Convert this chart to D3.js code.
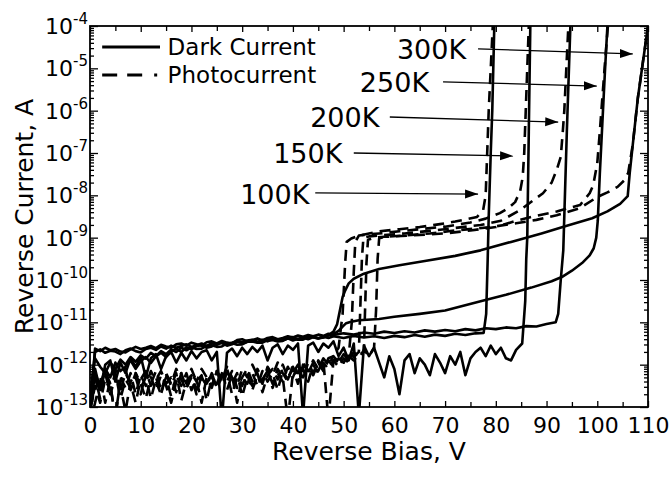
<!DOCTYPE html>
<html><head><meta charset="utf-8">
<script src="https://cdn.jsdelivr.net/npm/d3@7"></script>
<style>
body{margin:0;background:#fff}
svg{display:block}
text{font-family:"DejaVu Sans",Verdana,sans-serif;fill:#000}
</style>
</head><body>
<svg id="chart" width="670" height="484"></svg>
<script>
// ---------- DATA (reverse bias V, log10 of current in A) ----------
const xTicksMajor = [0,10,20,30,40,50,60,70,80,90,100,110];
const xTicksMinor = [5,15,25,35,45,55,65,75,85,95,105];
const yDecades = [-13,-12,-11,-10,-9,-8,-7,-6,-5,-4];
const xLabel = "Reverse Bias, V";
const yLabel = "Reverse Current, A";
const legendLabels = ["Dark Current","Photocurrent"];

const dark100K = [[0,-12.9],[1,-11.7],[2,-11.64],[3,-11.72],[4,-11.67],[5,-11.69],[6,-11.75],[7,-11.66],[8,-11.62],[9,-11.68],[10,-11.71],[11,-11.63],[12,-11.6],[13,-11.65],[14,-11.57],[15,-11.62],[16,-11.55],[17,-11.6],[18,-11.56],[19,-11.52],[20,-11.58],[21,-11.54],[22,-11.5],[23,-11.56],[24,-11.49],[25,-11.53],[26,-11.47],[27,-11.51],[28,-11.48],[29,-11.44],[30,-11.5],[31,-11.46],[32,-11.43],[33,-11.47],[34,-11.41],[35,-11.45],[36,-11.4],[37,-11.44],[38,-11.42],[39,-11.38],[40,-11.43],[41,-11.39],[42,-11.36],[43,-11.4],[44,-11.35],[45,-11.38],[46,-11.34],[47,-11.37],[48,-11.33],[50,-11.37],[52,-11.32],[54,-11.36],[56,-11.33],[58,-11.37],[60,-11.32],[62,-11.35],[64,-11.3],[66,-11.34],[68,-11.29],[70,-11.32],[72,-11.27],[74,-11.3],[76,-11.26],[77.6,-11.25],[78.1,-10.8],[78.4,-9.5],[78.6,-8.5],[79.0,-7.0],[79.3,-6.0],[79.7,-4.0]];

const dark150K = [[0,-13.2],[1,-12.1],[2,-12.6],[3,-12.0],[4,-11.9],[5,-12.4],[6,-11.95],[7,-12.2],[8,-11.85],[9,-12.05],[10,-11.8],[11,-12.3],[12,-11.85],[13,-11.75],[14,-12.1],[15,-11.8],[16,-11.7],[17,-11.95],[18,-11.72],[19,-11.9],[20,-11.68],[21,-11.85],[22,-11.7],[23,-11.66],[24,-11.9],[25,-11.7],[26,-13.3],[27,-11.72],[28,-11.62],[29,-11.8],[30,-11.6],[31,-11.75],[32,-11.58],[33,-11.7],[34,-11.55],[35,-11.9],[36,-11.6],[37,-11.52],[38,-11.75],[39,-11.55],[40,-11.65],[41,-11.5],[42,-13.2],[43,-11.55],[44,-11.48],[45,-11.7],[46,-11.5],[47,-11.6],[48,-11.45],[49,-11.8],[50,-11.6],[51,-11.9],[52,-11.5],[53,-13.2],[54,-11.55],[55,-11.8],[56,-11.6],[57,-11.95],[58,-12.3],[59,-11.8],[60,-12.1],[61,-12.7],[62,-11.9],[63,-11.75],[64,-12.2],[65,-11.85],[66,-12.0],[67,-12.25],[68,-11.75],[69,-11.95],[70,-12.2],[71,-11.8],[72,-12.0],[73,-11.7],[74,-12.25],[75,-11.85],[76,-11.7],[77,-11.6],[78,-11.8],[79,-11.55],[80,-11.75],[81,-11.6],[82,-11.85],[83,-11.9],[84,-11.65],[85.2,-11.5],[85.8,-10.5],[86.0,-9.5],[86.2,-9.0],[86.5,-6.5],[86.8,-4.0]];

const dark200K = [[0,-13.1],[1,-11.62],[2,-11.68],[3,-11.6],[4,-11.66],[5,-11.63],[6,-11.69],[7,-11.71],[8,-11.64],[9,-11.58],[10,-11.63],[11,-11.6],[12,-11.56],[13,-11.61],[14,-11.53],[15,-11.57],[16,-11.6],[17,-11.52],[18,-11.5],[19,-11.55],[20,-11.48],[21,-11.52],[22,-11.55],[23,-11.47],[24,-11.45],[25,-11.5],[26,-11.44],[27,-11.48],[28,-11.5],[29,-11.42],[30,-11.4],[31,-11.45],[32,-11.42],[33,-11.38],[34,-11.43],[35,-11.37],[36,-11.35],[37,-11.4],[38,-11.37],[39,-11.33],[40,-11.36],[41,-11.31],[42,-11.34],[43,-11.3],[44,-11.33],[45,-11.29],[46,-11.32],[47,-11.27],[48,-11.3],[50,-11.26],[52,-11.29],[54,-11.24],[56,-11.27],[58,-11.22],[60,-11.25],[62,-11.21],[64,-11.24],[66,-11.19],[68,-11.22],[70,-11.18],[72,-11.21],[74,-11.16],[76,-11.19],[78,-11.14],[80,-11.16],[82,-11.12],[84,-11.14],[86,-11.09],[88,-11.1],[90,-11.04],[91.8,-11.0],[92.3,-10.8],[92.8,-10.0],[93.3,-9.3],[94.0,-6.5],[94.7,-4.0]];

const dark250K = [[0,-13.0],[1,-12.2],[2,-12.5],[3,-12.1],[4,-12.3],[5,-11.95],[6,-12.15],[7,-12.05],[8,-11.9],[9,-12.1],[10,-11.92],[11,-11.82],[12,-11.96],[13,-11.8],[14,-11.72],[15,-11.82],[16,-11.68],[17,-11.62],[18,-11.7],[19,-11.59],[20,-11.63],[21,-11.56],[22,-11.54],[23,-11.6],[24,-11.57],[25,-11.5],[26,-11.49],[27,-11.55],[28,-11.52],[29,-11.46],[30,-11.47],[31,-11.43],[32,-11.41],[33,-11.46],[34,-11.44],[35,-11.39],[36,-11.38],[37,-11.43],[38,-11.42],[39,-11.36],[40,-11.35],[41,-11.4],[42,-11.38],[43,-11.33],[44,-11.34],[45,-11.37],[46,-11.35],[47,-11.31],[48,-11.28],[49,-11.2],[49.8,-11.1],[50.5,-11.02],[51.3,-10.99],[53,-10.95],[57,-10.92],[60,-10.87],[65,-10.8],[70,-10.72],[77,-10.5],[82,-10.35],[87,-10.18],[91,-10.03],[93,-9.93],[95,-9.78],[97,-9.6],[98.5,-9.42],[99.3,-9.25],[99.8,-9.0],[100.1,-8.6],[100.5,-7.5],[101.0,-6.3],[101.5,-5.1],[102.0,-4.0]];

const dark300K = [[0,-12.7],[1,-11.85],[2,-12.05],[3,-12.2],[4,-11.95],[5,-12.1],[6,-11.88],[7,-12.0],[8,-11.82],[9,-11.93],[10,-11.78],[11,-11.86],[12,-11.72],[13,-11.8],[14,-11.68],[15,-11.75],[16,-11.64],[17,-11.7],[18,-11.6],[19,-11.66],[20,-11.59],[21,-11.63],[22,-11.62],[23,-11.55],[24,-11.54],[25,-11.58],[26,-11.57],[27,-11.5],[28,-11.49],[29,-11.53],[30,-11.52],[31,-11.46],[32,-11.45],[33,-11.48],[34,-11.48],[35,-11.42],[36,-11.42],[37,-11.45],[38,-11.44],[39,-11.38],[40,-11.38],[41,-11.41],[42,-11.41],[43,-11.35],[44,-11.35],[45,-11.38],[46,-11.36],[47,-11.3],[48,-11.22],[48.7,-11.05],[49.3,-10.7],[49.8,-10.4],[50.3,-10.25],[51,-10.08],[52,-9.97],[54,-9.85],[57,-9.74],[61,-9.65],[66,-9.55],[72,-9.43],[77,-9.3],[83,-9.1],[89,-8.9],[94,-8.72],[99,-8.54],[102,-8.38],[104.5,-8.2],[106,-8.02],[106.4,-7.47],[107,-6.8],[108,-5.7],[109,-4.85],[110,-4.0]];

const photo100K = [[0,-13.3],[1,-12.3],[2,-12.8],[3,-12.2],[4,-12.5],[5,-13.2],[6,-12.4],[7,-12.1],[8,-12.6],[9,-12.3],[10,-12.7],[11,-12.2],[12,-12.45],[13,-12.15],[14,-12.6],[15,-12.3],[16,-12.75],[17,-12.25],[18,-12.5],[19,-12.2],[20,-12.6],[21,-12.35],[22,-12.9],[23,-12.3],[24,-12.5],[25,-12.15],[26,-12.45],[27,-12.2],[28,-12.7],[29,-12.3],[30,-12.5],[31,-12.2],[32,-12.6],[33,-12.25],[34,-12.4],[35,-12.1],[36,-12.55],[37,-12.2],[38,-12.4],[39,-12.05],[40,-12.3],[41,-12.0],[42,-12.35],[43,-11.95],[44,-12.2],[45,-11.9],[46,-12.1],[47,-11.85],[48,-11.8],[49,-11.6],[49.8,-10.8],[50.3,-9.6],[50.6,-9.1],[51.5,-9.02],[53,-8.95],[55,-8.9],[57,-8.85],[61,-8.8],[65,-8.75],[69,-8.68],[72,-8.62],[74,-8.57],[76.3,-8.51],[77.5,-8.35],[78.0,-8.0],[78.3,-7.0],[78.6,-6.0],[79.0,-5.0],[79.4,-4.0]];

const photo150K = [[0,-13.0],[1,-12.6],[2,-12.25],[3,-12.9],[4,-12.35],[5,-12.1],[6,-12.5],[7,-13.1],[8,-12.4],[9,-12.2],[10,-12.55],[11,-12.3],[12,-12.8],[13,-12.35],[14,-12.15],[15,-12.45],[16,-12.3],[17,-12.65],[18,-12.2],[19,-12.45],[20,-12.1],[21,-12.4],[22,-12.25],[23,-12.85],[24,-12.3],[25,-12.5],[26,-12.2],[27,-12.4],[28,-12.15],[29,-12.55],[30,-12.3],[31,-12.1],[32,-12.4],[33,-12.2],[34,-12.65],[35,-12.25],[36,-12.1],[37,-12.35],[38,-12.0],[39,-12.3],[40,-12.1],[41,-12.45],[42,-12.0],[43,-12.2],[44,-11.95],[45,-12.15],[46,-11.9],[47,-13.3],[48,-11.9],[49,-11.85],[50,-11.95],[51,-11.8],[51.6,-11.0],[52.0,-9.8],[52.3,-9.1],[53,-8.95],[55,-8.92],[57,-8.9],[61,-8.85],[65,-8.8],[70,-8.74],[75,-8.64],[78,-8.55],[80.8,-8.42],[82.5,-8.3],[83.8,-8.16],[84.8,-7.9],[85.3,-7.57],[85.6,-7.0],[85.9,-6.0],[86.2,-5.0],[86.5,-4.0]];

const photo200K = [[0,-13.4],[1,-12.9],[2,-12.4],[3,-12.2],[4,-12.7],[5,-12.3],[6,-12.6],[7,-12.2],[8,-12.45],[9,-12.9],[10,-12.35],[11,-12.15],[12,-12.5],[13,-12.3],[14,-12.7],[15,-12.25],[16,-12.5],[17,-12.2],[18,-12.85],[19,-12.4],[20,-12.25],[21,-12.6],[22,-12.3],[23,-12.5],[24,-12.2],[25,-12.45],[26,-12.15],[27,-12.6],[28,-12.25],[29,-12.9],[30,-12.3],[31,-12.45],[32,-12.2],[33,-12.5],[34,-12.15],[35,-12.4],[36,-12.2],[37,-12.6],[38,-12.15],[39,-12.35],[40,-12.05],[41,-12.3],[42,-12.1],[43,-12.4],[44,-12.0],[45,-12.2],[46,-11.95],[47,-12.1],[48,-11.9],[49,-12.05],[50,-11.85],[51,-11.95],[52,-11.8],[53,-11.7],[53.3,-10.6],[53.6,-9.5],[53.9,-9.0],[55,-8.97],[57,-8.95],[62,-8.9],[67,-8.84],[72,-8.77],[77,-8.7],[81,-8.6],[84.8,-8.35],[87,-8.15],[89.3,-7.95],[91.0,-7.7],[92.0,-7.4],[92.8,-7.09],[93.2,-6.5],[93.5,-6.0],[93.9,-5.0],[94.3,-4.0]];

const photo250K = [[0,-13.1],[1,-12.5],[2,-12.9],[3,-12.35],[4,-12.6],[5,-12.2],[6,-12.8],[7,-12.35],[8,-12.55],[9,-12.2],[10,-12.45],[11,-12.8],[12,-12.3],[13,-12.6],[14,-12.25],[15,-12.5],[16,-12.9],[17,-12.4],[18,-12.2],[19,-12.55],[20,-12.3],[21,-12.7],[22,-12.25],[23,-12.45],[24,-12.2],[25,-12.55],[26,-12.3],[27,-12.1],[28,-12.45],[29,-12.2],[30,-12.75],[31,-12.3],[32,-12.5],[33,-12.1],[34,-12.35],[35,-12.15],[36,-12.45],[37,-12.1],[38,-12.3],[39,-13.3],[40,-12.2],[41,-12.0],[42,-12.3],[43,-12.05],[44,-12.25],[45,-11.95],[46,-12.15],[47,-11.9],[48,-12.05],[49,-11.85],[50,-11.95],[51,-11.8],[52,-11.9],[53,-11.75],[54,-11.7],[54.2,-10.8],[54.5,-9.6],[54.8,-9.05],[56,-9.0],[58,-8.98],[63,-8.95],[70,-8.9],[75,-8.83],[80,-8.75],[84,-8.6],[87,-8.51],[92,-8.38],[96.6,-8.23],[98.5,-7.95],[99.2,-7.76],[100.0,-7.24],[100.5,-6.5],[101.0,-5.7],[101.5,-4.9],[102.1,-4.0]];

const photo300K = [[0,-12.8],[1,-12.35],[2,-12.6],[3,-12.15],[4,-12.45],[5,-13.3],[6,-12.3],[7,-12.55],[8,-12.2],[9,-12.7],[10,-12.25],[11,-12.5],[12,-12.15],[13,-12.4],[14,-12.7],[15,-12.2],[16,-12.45],[17,-12.1],[18,-12.35],[19,-12.6],[20,-12.2],[21,-12.4],[22,-12.1],[23,-12.3],[24,-12.55],[25,-12.15],[26,-12.35],[27,-12.05],[28,-12.3],[29,-12.5],[30,-12.1],[31,-12.3],[32,-12.0],[33,-12.25],[34,-12.45],[35,-12.05],[36,-12.25],[37,-11.95],[38,-12.2],[39,-12.4],[40,-12.0],[41,-12.2],[42,-11.95],[43,-12.15],[44,-11.9],[45,-12.1],[46,-11.85],[47,-12.0],[48,-11.8],[49,-11.95],[50,-11.75],[51,-11.9],[52,-11.7],[53,-11.85],[54,-11.65],[55,-11.8],[56,-11.6],[56.4,-10.7],[56.7,-9.5],[57.0,-9.02],[58,-8.98],[62,-8.95],[67,-8.9],[72,-8.83],[79,-8.75],[84,-8.66],[88,-8.58],[92,-8.47],[96.6,-8.3],[100,-8.04],[102,-7.93],[104,-7.8],[105.3,-7.65],[106.1,-7.47],[107,-6.8],[108,-5.7],[109,-4.85],[110,-4.0]];

// annotation: label, text anchor (V, log10 I), arrow start, arrow end
const annotLabels = ["300K","250K","200K","150K","100K"];
const annotText  = [[60.5,-4.78],[53.2,-5.56],[43.4,-6.39],[36.1,-7.24],[29.6,-8.2]];
const annotFrom  = [[76.5,-4.54],[69.6,-5.32],[59.1,-6.15],[52.0,-7.0],[44.4,-7.94]];
const annotTo    = [[107.0,-4.66],[99.9,-5.42],[92.3,-6.27],[83.4,-7.07],[76.5,-7.97]];

const series = [
  {data: dark100K, photo:false},{data: dark150K, photo:false},{data: dark200K, photo:false},
  {data: dark250K, photo:false},{data: dark300K, photo:false},
  {data: photo100K, photo:true},{data: photo150K, photo:true},{data: photo200K, photo:true},
  {data: photo250K, photo:true},{data: photo300K, photo:true}
];

// ---------- LAYOUT ----------
const W = 670, H = 484;
const m = {left: 90, right: 22, top: 26, bottom: 77};
const svg = d3.select("#chart");
const x = d3.scaleLinear().domain([0,110]).range([m.left, W - m.right]);
const y = d3.scaleLog().domain([1e-13,1e-4]).range([H - m.bottom, m.top]);
const p10 = e => Math.pow(10, e);

svg.append("defs").append("clipPath").attr("id","plotclip")
  .append("rect").attr("x", x(0)).attr("y", y(1e-4))
  .attr("width", x(110)-x(0)).attr("height", y(1e-13)-y(1e-4));

const line = d3.line().x(d => x(d[0])).y(d => y(p10(d[1])));
const plot = svg.append("g").attr("clip-path","url(#plotclip)");
series.forEach(s => {
  plot.append("path").attr("d", line(s.data))
    .attr("fill","none").attr("stroke","#000").attr("stroke-width",2.6)
    .attr("stroke-linejoin","round")
    .attr("stroke-dasharray", s.photo ? "11,7" : null);
});

// ---------- AXES ----------
const yMinor = [];
yDecades.slice(0,-1).forEach(e => { for (let k=2;k<=9;k++) yMinor.push(k*p10(e)); });
const yMajor = yDecades.map(p10);

function axisG(gen, tx, ty) {
  const g = svg.append("g").attr("transform",`translate(${tx},${ty})`).call(gen);
  g.select(".domain").remove();
  g.selectAll(".tick line").attr("stroke","#000").attr("stroke-width",1.3);
  return g;
}
const bottomY = y(1e-13), topY = y(1e-4);
const xb = axisG(d3.axisBottom(x).tickValues(xTicksMajor).tickSize(-6).tickPadding(10).tickFormat(d3.format("d")), 0, bottomY);
xb.selectAll("text").attr("font-size",22).attr("font-family","DejaVu Sans").attr("fill","#000");
axisG(d3.axisBottom(x).tickValues(xTicksMinor).tickSize(-5).tickFormat(""), 0, bottomY);
axisG(d3.axisTop(x).tickValues(xTicksMajor).tickSize(-6).tickFormat(""), 0, topY);
axisG(d3.axisTop(x).tickValues(xTicksMinor).tickSize(-5).tickFormat(""), 0, topY);
axisG(d3.axisLeft(y).tickValues(yMajor).tickSize(-8).tickFormat(""), x(0), 0);
axisG(d3.axisLeft(y).tickValues(yMinor).tickSize(-4).tickFormat(""), x(0), 0);
axisG(d3.axisRight(y).tickValues(yMajor).tickSize(-8).tickFormat(""), x(110), 0);
axisG(d3.axisRight(y).tickValues(yMinor).tickSize(-4).tickFormat(""), x(110), 0);

// y tick labels 10^n
const yl = svg.append("g");
yDecades.forEach(e => {
  const t = yl.append("text").attr("x", x(0) - 2).attr("y", y(p10(e)) + 8)
    .attr("text-anchor","end").attr("font-size",22);
  t.append("tspan").text("10");
  t.append("tspan").attr("font-size",15).attr("dy",-10).text(String(e).replace("-","-"));
});

// frame
svg.append("rect").attr("x",x(0)).attr("y",topY).attr("width",x(110)-x(0)).attr("height",bottomY-topY)
  .attr("fill","none").attr("stroke","#000").attr("stroke-width",1.8);

// axis titles
svg.append("text").attr("x",(x(0)+x(110))/2).attr("y",460).attr("text-anchor","middle")
  .attr("font-size",25).text(xLabel);
svg.append("text").attr("transform",`translate(33,${(topY+bottomY)/2}) rotate(-90)`)
  .attr("text-anchor","middle").attr("font-size",25).text(yLabel);

// legend
const lg = svg.append("g");
lg.append("line").attr("x1",x(2.4)).attr("x2",x(13.8)).attr("y1",47).attr("y2",47)
  .attr("stroke","#000").attr("stroke-width",3);
lg.append("line").attr("x1",x(2.4)).attr("x2",x(13.8)).attr("y1",75).attr("y2",75)
  .attr("stroke","#000").attr("stroke-width",3).attr("stroke-dasharray","15,10,15,12,3");
lg.append("text").attr("x",x(15.3)).attr("y",55).attr("font-size",23).text(legendLabels[0]);
lg.append("text").attr("x",x(15.3)).attr("y",83).attr("font-size",23).text(legendLabels[1]);

// annotations
svg.select("defs").append("marker").attr("id","arrow").attr("markerUnits","userSpaceOnUse")
  .attr("markerWidth",14).attr("markerHeight",10).attr("refX",13).attr("refY",5)
  .attr("orient","auto").append("path").attr("d","M0,0.5 L13,5 L0,9.5 Z").attr("fill","#000");
annotLabels.forEach((lab,i) => {
  svg.append("text").attr("x",x(annotText[i][0])).attr("y",y(p10(annotText[i][1])))
    .attr("font-size",27).text(lab);
  svg.append("line").attr("x1",x(annotFrom[i][0])).attr("y1",y(p10(annotFrom[i][1])))
    .attr("x2",x(annotTo[i][0])).attr("y2",y(p10(annotTo[i][1])))
    .attr("stroke","#000").attr("stroke-width",1.3).attr("marker-end","url(#arrow)");
});
</script>
</body></html>
